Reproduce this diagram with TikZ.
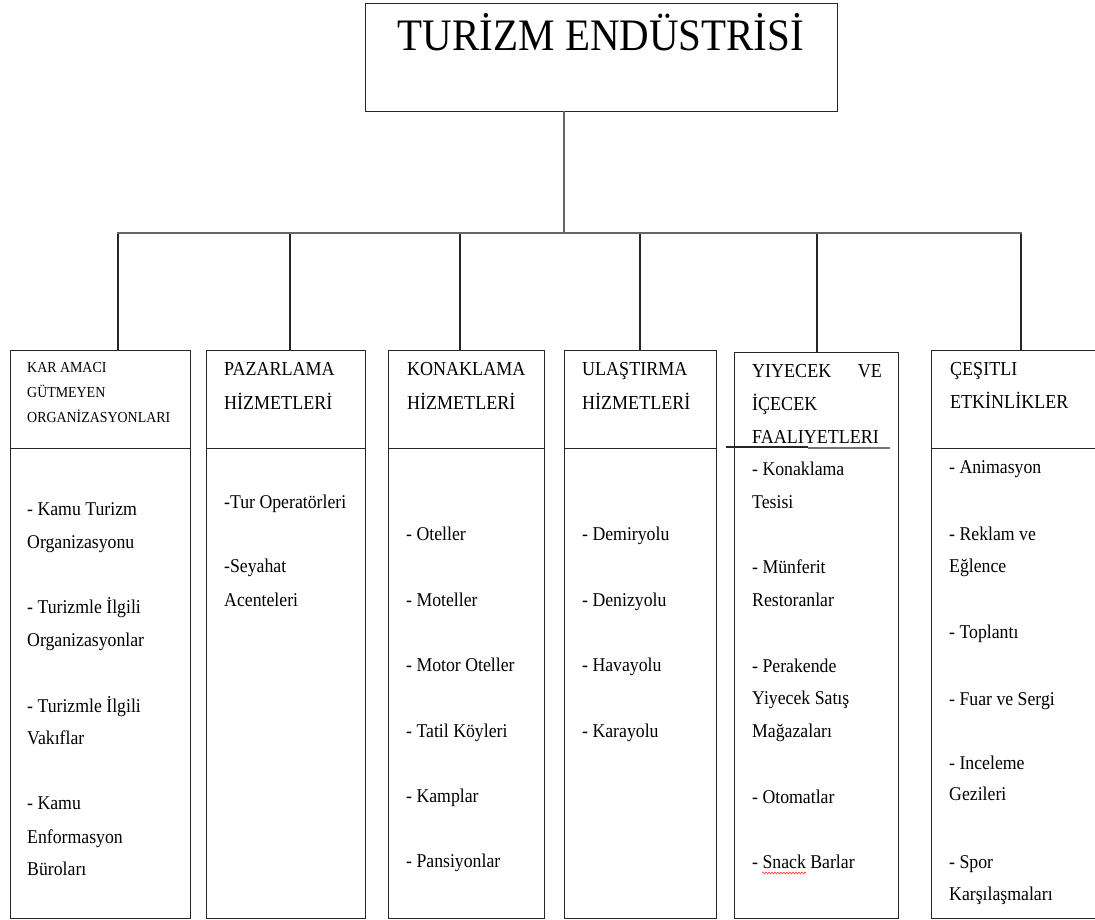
\documentclass[tikz,border=0pt]{standalone}
\usepackage{fontspec}
\setmainfont{Liberation Serif}[FakeStretch=0.91]
\usetikzlibrary{decorations.pathmorphing}
\begin{document}
\begin{tikzpicture}[x=1pt,y=-1pt,
  box/.style={draw=black!85, line width=1.3pt, inner sep=0pt, anchor=north west},
  link/.style={draw=black!85, line width=1.3pt},
  bus/.style={draw=black!60, line width=2.2pt},
  itemtxt/.style={anchor=base west, inner sep=0pt, font=\fontsize{19.5}{22}\selectfont},
  headtxt/.style={anchor=base west, inner sep=0pt, font=\fontsize{19.8}{22}\selectfont},
  smalltxt/.style={anchor=base west, inner sep=0pt, font=\fontsize{15.3}{17}\selectfont},
  spell/.style={draw=red!80, line width=0.6pt, decorate, decoration={snake, amplitude=0.9pt, segment length=3pt}}
]
\useasboundingbox (0,0) rectangle (1095,920);

% top box
\node[box, minimum width=472pt, minimum height=108pt] (top) at (365,3) {};
\node[anchor=base, inner sep=0pt, font=\fontsize{45}{50}\selectfont] (title) at (601,51) {TURİZM ENDÜSTRİSİ};

% column headers and bodies
\node[box, minimum width=180pt, minimum height=98pt]  (h1) at (10,350) {};
\node[box, minimum width=180pt, minimum height=470pt] (b1) at (10,448) {};
\node[box, minimum width=159pt, minimum height=98pt]  (h2) at (206,350) {};
\node[box, minimum width=159pt, minimum height=470pt] (b2) at (206,448) {};
\node[box, minimum width=156pt, minimum height=98pt]  (h3) at (388,350) {};
\node[box, minimum width=156pt, minimum height=470pt] (b3) at (388,448) {};
\node[box, minimum width=152pt, minimum height=98pt]  (h4) at (564,350) {};
\node[box, minimum width=152pt, minimum height=470pt] (b4) at (564,448) {};
\node[box, minimum width=164pt, minimum height=566pt] (h5) at (734,352) {};
\node[box, minimum width=170pt, minimum height=98pt]  (h6) at (931,350) {};
\node[box, minimum width=170pt, minimum height=470pt] (b6) at (931,448) {};

% odd separator of column 5
\coordinate (s5a) at (726,447);
\coordinate (s5b) at (808,447);
\coordinate (s5c) at (890,448);
\draw[link] (s5a) -- (s5b);
\draw[draw=black!55, line width=1.6pt] (s5b |- s5c) -- (s5c);

% connectors
\coordinate (stem) at (564,111);
\coordinate (busL) at (118,233);
\coordinate (busR) at (1021,233);
\coordinate (j1) at (118,233);
\coordinate (j2) at (290,233);
\coordinate (j3) at (460,233);
\coordinate (j4) at (640,233);
\coordinate (j5) at (817,233);
\coordinate (j6) at (1021,233);
\draw[link] (j1) -- (j1 |- h1.north);
\draw[link] (j2) -- (j2 |- h2.north);
\draw[link] (j3) -- (j3 |- h3.north);
\draw[link] (j4) -- (j4 |- h4.north);
\draw[link] (j5) -- (j5 |- h5.north);
\draw[link] (j6) -- (j6 |- h6.north);
\draw[bus] (stem) -- (stem |- busL);
\draw[bus, line cap=rect] (busL) -- (busR);

% header texts
\node[smalltxt] (t1a) at (27,372) {KAR AMACI};
\node[smalltxt] (t1b) at (27,397) {GÜTMEYEN};
\node[smalltxt] (t1c) at (27,422) {ORGANİZASYONLARI};
\node[headtxt] (t2a) at (224,375) {PAZARLAMA};
\node[headtxt] (t2b) at (224,409) {HİZMETLERİ};
\node[headtxt] (t3a) at (407,375) {KONAKLAMA};
\node[headtxt] (t3b) at (407,409) {HİZMETLERİ};
\node[headtxt] (t4a) at (582,375) {ULAŞTIRMA};
\node[headtxt] (t4b) at (582,409) {HİZMETLERİ};
\node[headtxt] (t5a) at (752,377) {YIYECEK};
\node[headtxt, anchor=base east] (t5v) at (882,377) {VE};
\node[headtxt] (t5b) at (752,410) {İÇECEK};
\node[headtxt] (t5c) at (752,443) {FAALIYETLERI};
\node[headtxt] (t6a) at (950,375) {ÇEŞITLI};
\node[headtxt] (t6b) at (950,408) {ETKİNLİKLER};

% body texts
\foreach \yy/\tt [count=\i] in {515/- Kamu Turizm, 548/Organizasyonu, 613/- Turizmle İlgili, 646/Organizasyonlar, 712/- Turizmle İlgili, 744/Vakıflar, 809/- Kamu, 843/Enformasyon, 875/Büroları}
  \node[itemtxt] (i1-\i) at (27,\yy) {\tt};
\foreach \yy/\tt [count=\i] in {508/-Tur Operatörleri, 572/-Seyahat, 606/Acenteleri}
  \node[itemtxt] (i2-\i) at (224,\yy) {\tt};
\foreach \yy/\tt [count=\i] in {540/- Oteller, 606/- Moteller, 671/- Motor Oteller, 737/- Tatil Köyleri, 802/- Kamplar, 867/- Pansiyonlar}
  \node[itemtxt] (i3-\i) at (406,\yy) {\tt};
\foreach \yy/\tt [count=\i] in {540/- Demiryolu, 606/- Denizyolu, 671/- Havayolu, 737/- Karayolu}
  \node[itemtxt] (i4-\i) at (582,\yy) {\tt};
\foreach \yy/\tt [count=\i] in {475/- Konaklama, 508/Tesisi, 573/- Münferit, 606/Restoranlar, 672/- Perakende, 704/Yiyecek Satış, 737/Mağazaları, 803/- Otomatlar, 868/- Snack Barlar}
  \node[itemtxt] (i5-\i) at (752,\yy) {\tt};
\foreach \yy/\tt [count=\i] in {473/- Animasyon, 540/- Reklam ve, 572/Eğlence, 638/- Toplantı, 705/- Fuar ve Sergi, 769/- Inceleme, 800/Gezileri, 868/- Spor, 900/Karşılaşmaları}
  \node[itemtxt] (i6-\i) at (949,\yy) {\tt};

% spell-check underline under "Snack"
\coordinate (sp1) at (762,873);
\coordinate (sp2) at (806,873);
\draw[spell] (sp1) -- (sp2);
\end{tikzpicture}
\end{document}
